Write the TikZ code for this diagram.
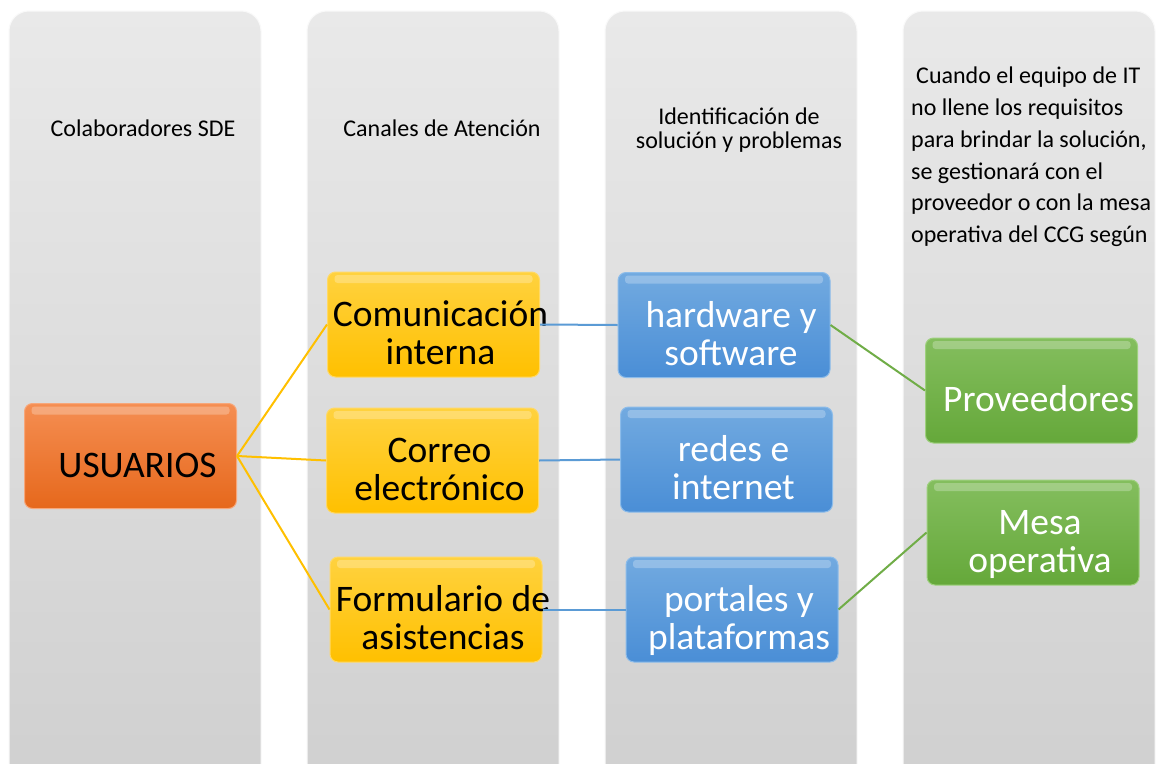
\documentclass[tikz,border=0pt]{standalone}
\usepackage{fontspec}
\setmainfont{Carlito}
\definecolor{colTop}{HTML}{E9E9E9}
\definecolor{colBot}{HTML}{CFCFCF}
\definecolor{orTop}{HTML}{F58E52}
\definecolor{orBot}{HTML}{E6681C}
\definecolor{orEdge}{HTML}{F7A77A}
\definecolor{yeTop}{HTML}{FFD23F}
\definecolor{yeBot}{HTML}{FFC000}
\definecolor{yeEdge}{HTML}{FFD966}
\definecolor{blTop}{HTML}{72AAE0}
\definecolor{blBot}{HTML}{4A8ED6}
\definecolor{blEdge}{HTML}{8CBCEA}
\definecolor{grTop}{HTML}{84BE5E}
\definecolor{grBot}{HTML}{65A83A}
\definecolor{grEdge}{HTML}{9ED07E}
\definecolor{yeLine}{HTML}{FFC000}
\definecolor{blLine}{HTML}{5B9BD5}
\definecolor{grLine}{HTML}{70AD47}
\newcommand\bxt[1]{\rule{0pt}{52pt}#1\rule[-10pt]{0pt}{0pt}}
\begin{document}
\begin{tikzpicture}[x=1pt,y=-1pt,
  column/.style={rounded corners=20pt, top color=colTop, bottom color=colBot, draw=white!95!gray, line width=1pt},
  coltext/.style={inner sep=0pt, font=\fontsize{24}{24.5}\selectfont, align=center},
  boxlab/.style={inner sep=0pt, align=center, font=\fontsize{37.5}{38}\selectfont, xshift=7pt},
  basebox/.style={rounded corners=8pt, minimum width=212pt, minimum height=105pt, inner sep=0pt,
    line width=1pt,
    path picture={\fill[white,opacity=.25,rounded corners=3pt]
      ([xshift=7pt,yshift=-3pt]path picture bounding box.north west) rectangle
      ([xshift=-7pt,yshift=-11pt]path picture bounding box.north east);}},
  orbox/.style={basebox, top color=orTop, bottom color=orBot, draw=orEdge, label={[boxlab,text=black]center:\bxt{#1}}},
  yebox/.style={basebox, top color=yeTop, bottom color=yeBot, draw=yeEdge, label={[boxlab,text=black]center:\bxt{#1}}},
  blbox/.style={basebox, top color=blTop, bottom color=blBot, draw=blEdge, label={[boxlab,text=white]center:\bxt{#1}}},
  grbox/.style={basebox, top color=grTop, bottom color=grBot, draw=grEdge, label={[boxlab,text=white]center:\bxt{#1}}},
  ylink/.style={draw=yeLine, line width=2pt},
  blink/.style={draw=blLine, line width=2pt},
  glink/.style={draw=grLine, line width=2pt}]
\useasboundingbox (0,0) rectangle (1172,763);
\clip (0,0) rectangle (1172,763);
\fill[white] (0,0) rectangle (1172,763);
% columns
\foreach \cx in {9,307,605,903}
  \path[column] (\cx,11) rectangle ++(252,800);
% column headings
\node[coltext] (h1) at (143,128) {Colaboradores SDE};
\node[coltext] (h2) at (442,128) {Canales de Atención};
\node[coltext] (h3) at (739,130) {Identificación de\\solución y problemas};
\node[coltext, align=left, anchor=west, font=\fontsize{24}{31.8}\selectfont] (h4) at (911,157)
  {\hspace{5pt}Cuando el equipo de IT\\no llene los requisitos\\para brindar la solución,\\se gestionará con el\\proveedor o con la mesa\\operativa del CCG según};
% boxes
\node[orbox={USUARIOS}] (usr) at (130.5,456) {};
\node[yebox={Comunicación\\interna}] (com) at (433.5,324.5) {};
\node[yebox={Correo\\electrónico}] (cor) at (432.5,460.5) {};
\node[yebox={Formulario de\\asistencias}] (frm) at (436,609.5) {};
\node[blbox={hardware y\\software}] (hw) at (724,325) {};
\node[blbox={redes e\\internet}] (red) at (726.5,459.5) {};
\node[blbox={portales y\\plataformas}] (por) at (732,609.5) {};
\node[grbox={Proveedores}] (prov) at (1031.5,390.5) {};
\node[grbox={Mesa\\operativa}] (mesa) at (1033,532.5) {};
% connectors
\draw[ylink] (usr.east) -- (com.west);
\draw[ylink] (usr.east) -- (cor.west);
\draw[ylink] (usr.east) -- (frm.west);
\draw[blink] (com.east) -- (hw.west);
\draw[blink] (cor.east) -- (red.west);
\draw[blink] (frm.east) -- (por.west);
\draw[glink] (hw.east) -- (prov.west);
\draw[glink] (por.east) -- (mesa.west);
\end{tikzpicture}
\end{document}
